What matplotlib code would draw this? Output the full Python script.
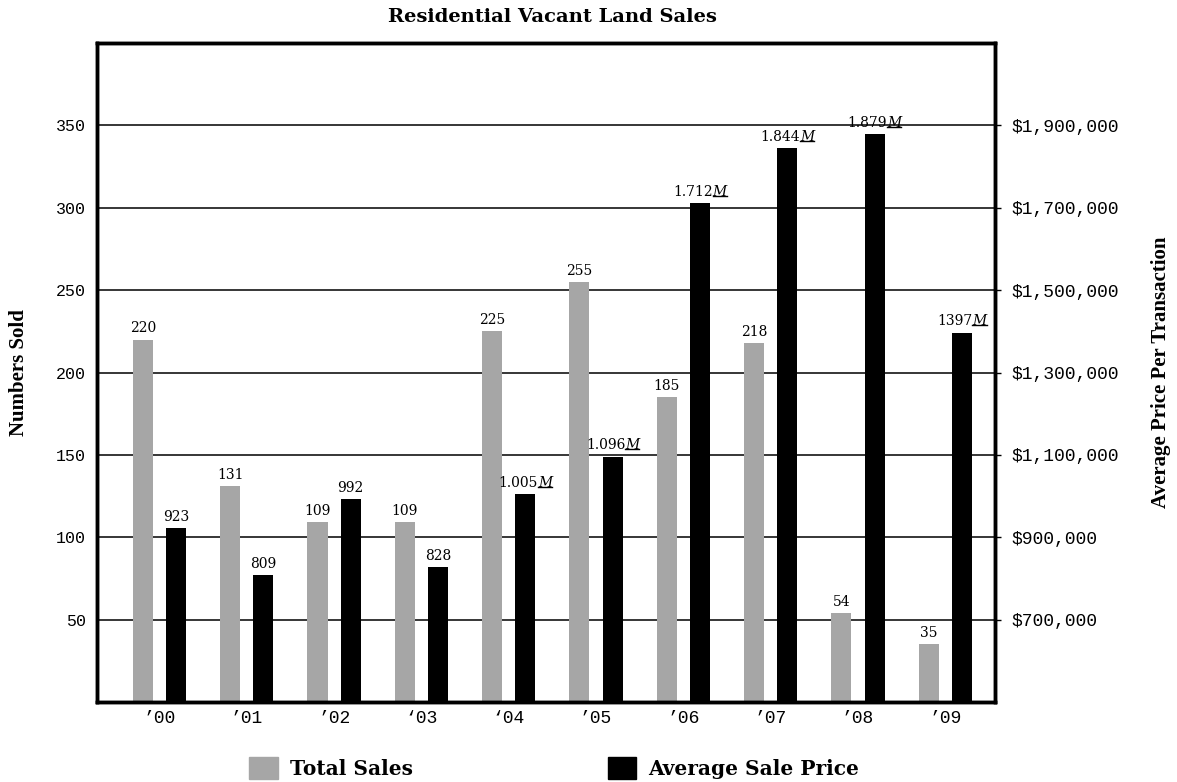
import numpy as np
import matplotlib
matplotlib.use("Agg")
import matplotlib.pyplot as plt
from matplotlib.patches import Patch
from matplotlib.lines import Line2D
from matplotlib.transforms import IdentityTransform

years = ["\u201900", "\u201901", "\u201902", "\u201803", "\u201804",
         "\u201905", "\u201906", "\u201907", "\u201908", "\u201909"]
total_sales = [220, 131, 109, 109, 225, 255, 185, 218, 54, 35]
avg_price = [923000, 809000, 992000, 828000, 1005000,
             1096000, 1712000, 1844000, 1879000, 1397000]
price_labels = ["923", "809", "992", "828", "1.005M",
                "1.096M", "1.712M", "1.844M", "1.879M", "1397M"]
left_ticks = [50, 100, 150, 200, 250, 300, 350]
right_ticks = [700000, 900000, 1100000, 1300000, 1500000, 1700000, 1900000]

serif = "Liberation Serif"
dserif = "DejaVu Serif"
mono = "Liberation Mono"
grey = "#a6a6a6"
DPI = 100

fig = plt.figure(figsize=(11.77, 7.82), dpi=DPI)
ax = fig.add_axes([0.0824, 0.1023, 0.7630, 0.8427])
ax2 = ax.twinx()

x = np.arange(len(years))
w = 0.23
off = 0.19

ax.set_axisbelow(True)
for v in left_ticks:
    ax.axhline(v, color="black", lw=1.1, zorder=0)

ax.bar(x - off, total_sales, width=w, color=grey, zorder=2)
ax2.bar(x + off, avg_price, width=w, color="black", zorder=2)

for xi, v in zip(x, total_sales):
    ax.annotate(str(v), (xi - off, v), xytext=(0, 3), textcoords="offset points",
                ha="center", va="bottom", fontsize=10, family=dserif)

# price labels: number in roman, trailing M in underlined italic
pairs = []
for xi, v, s in zip(x, avg_price, price_labels):
    if s.endswith("M"):
        num, suf = s[:-1], "M"
    else:
        num, suf = s, ""
    t1 = ax2.annotate(num, (xi + off, v), xytext=(0, 3), textcoords="offset points",
                      ha="left", va="bottom", fontsize=10, family=dserif)
    t2 = ax2.annotate(suf, (xi + off, v), xytext=(0, 3), textcoords="offset points",
                      ha="left", va="bottom", fontsize=10, family=dserif, style="italic")
    pairs.append((t1, t2))

ax.set_xlim(-0.716, 9.57)
ax.set_ylim(0, 400)
ax2.set_ylim(500000, 2100000)

ax.set_xticks(x)
ax.set_xticklabels(years, family=mono, fontsize=13)
ax.set_yticks(left_ticks)
ax.set_yticklabels([str(t) for t in left_ticks], family=mono, fontsize=12)
ax2.set_yticks(right_ticks)
ax2.set_yticklabels(["${:,}".format(t) for t in right_ticks], family=mono, fontsize=13)

ax.tick_params(axis="x", length=0, pad=6)
ax.tick_params(axis="y", length=0, pad=8)
ax2.tick_params(axis="y", length=4, width=1, pad=8)

for a in (ax, ax2):
    for sp in a.spines.values():
        sp.set_linewidth(2.5)

ax.set_ylabel("Numbers Sold", family=serif, fontweight="bold", fontsize=15)
ax.yaxis.set_label_coords(-0.076, 0.5)
ax2.set_ylabel("Average Price Per Transaction", family=serif, fontweight="bold",
               fontsize=15, rotation=90)
ax2.yaxis.set_label_coords(1.174, 0.5)
fig.text(0.469, 0.978, "Residential Vacant Land Sales", ha="center", va="center",
         family=dserif, fontweight="bold", fontsize=14)

handles = [Patch(color=grey, label="Total Sales"),
           Patch(color="black", label="Average Sale Price")]
fig.legend(handles=handles, loc="center", bbox_to_anchor=(0.471, 0.018), ncol=2,
           frameon=False, handlelength=1.4, handleheight=1.35, handletextpad=0.6,
           columnspacing=9.7, prop={"family": dserif, "weight": "bold", "size": 14.5})

# center the two-part labels over their bars
fig.canvas.draw()
r = fig.canvas.get_renderer()
pt = 72.0 / DPI
for t1, t2 in pairs:
    w1 = t1.get_window_extent(r).width
    w2 = t2.get_window_extent(r).width if t2.get_text() else 0
    start = -(w1 + w2) / 2
    t1.xyann = (start * pt, 3)
    t2.xyann = ((start + w1) * pt, 3)
fig.canvas.draw()
for t1, t2 in pairs:
    if t2.get_text():
        bb = t2.get_window_extent(r)
        yline = bb.y0 + 3
        fig.add_artist(Line2D([bb.x0, bb.x1], [yline, yline], lw=1, color="black",
                              transform=IdentityTransform()))

fig.savefig("out.png", dpi=DPI)
